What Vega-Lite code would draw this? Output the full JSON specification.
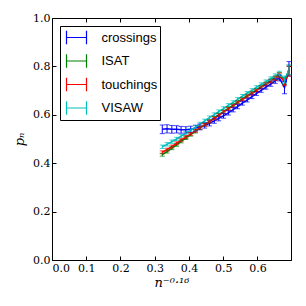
{
  "$schema": "https://vega.github.io/schema/vega-lite/v6.json",
  "width": 239,
  "height": 242,
  "autosize": {"type": "none"},
  "padding": {"left": 52, "top": 18, "right": 15, "bottom": 46},
  "background": "white",
  "config": {
    "view": {"stroke": "black", "strokeWidth": 1},
    "axis": {"labelFont": "DejaVu Serif", "labelFontSize": 11, "labelColor": "black", "titleFont": "DejaVu Serif", "titleFontWeight": "normal", "titleColor": "black", "titleFontSize": 13, "grid": false, "domain": false, "tickColor": "black", "tickSize": -4, "tickWidth": 1}
  },
  "resolve": {"axis": {"x": "independent", "y": "independent"}},
  "data": {"values": [
    {"series":"crossings","x":0.322,"p":0.540,"err":0.018},
    {"series":"crossings","x":0.336,"p":0.542,"err":0.017},
    {"series":"crossings","x":0.350,"p":0.540,"err":0.016},
    {"series":"crossings","x":0.364,"p":0.540,"err":0.015},
    {"series":"crossings","x":0.377,"p":0.538,"err":0.014},
    {"series":"crossings","x":0.391,"p":0.538,"err":0.013},
    {"series":"crossings","x":0.405,"p":0.540,"err":0.013},
    {"series":"crossings","x":0.419,"p":0.545,"err":0.012},
    {"series":"crossings","x":0.432,"p":0.550,"err":0.012},
    {"series":"crossings","x":0.446,"p":0.556,"err":0.011},
    {"series":"crossings","x":0.460,"p":0.565,"err":0.011},
    {"series":"crossings","x":0.474,"p":0.575,"err":0.010},
    {"series":"crossings","x":0.487,"p":0.585,"err":0.010},
    {"series":"crossings","x":0.501,"p":0.596,"err":0.010},
    {"series":"crossings","x":0.515,"p":0.608,"err":0.009},
    {"series":"crossings","x":0.529,"p":0.621,"err":0.009},
    {"series":"crossings","x":0.542,"p":0.634,"err":0.009},
    {"series":"crossings","x":0.556,"p":0.648,"err":0.008},
    {"series":"crossings","x":0.570,"p":0.661,"err":0.008},
    {"series":"crossings","x":0.584,"p":0.675,"err":0.008},
    {"series":"crossings","x":0.597,"p":0.688,"err":0.008},
    {"series":"crossings","x":0.611,"p":0.701,"err":0.008},
    {"series":"crossings","x":0.625,"p":0.714,"err":0.008},
    {"series":"crossings","x":0.639,"p":0.727,"err":0.009},
    {"series":"crossings","x":0.652,"p":0.740,"err":0.010},
    {"series":"crossings","x":0.664,"p":0.752,"err":0.012},
    {"series":"crossings","x":0.679,"p":0.712,"err":0.025},
    {"series":"crossings","x":0.692,"p":0.790,"err":0.030},
    {"series":"ISAT","x":0.322,"p":0.435,"err":0.006},
    {"series":"ISAT","x":0.336,"p":0.448,"err":0.006},
    {"series":"ISAT","x":0.350,"p":0.462,"err":0.006},
    {"series":"ISAT","x":0.364,"p":0.476,"err":0.006},
    {"series":"ISAT","x":0.377,"p":0.490,"err":0.006},
    {"series":"ISAT","x":0.391,"p":0.504,"err":0.006},
    {"series":"ISAT","x":0.405,"p":0.518,"err":0.006},
    {"series":"ISAT","x":0.419,"p":0.531,"err":0.006},
    {"series":"ISAT","x":0.432,"p":0.545,"err":0.006},
    {"series":"ISAT","x":0.446,"p":0.559,"err":0.006},
    {"series":"ISAT","x":0.460,"p":0.573,"err":0.006},
    {"series":"ISAT","x":0.474,"p":0.587,"err":0.006},
    {"series":"ISAT","x":0.487,"p":0.600,"err":0.006},
    {"series":"ISAT","x":0.501,"p":0.613,"err":0.006},
    {"series":"ISAT","x":0.515,"p":0.627,"err":0.006},
    {"series":"ISAT","x":0.529,"p":0.640,"err":0.006},
    {"series":"ISAT","x":0.542,"p":0.653,"err":0.006},
    {"series":"ISAT","x":0.556,"p":0.666,"err":0.006},
    {"series":"ISAT","x":0.570,"p":0.679,"err":0.006},
    {"series":"ISAT","x":0.584,"p":0.691,"err":0.006},
    {"series":"ISAT","x":0.597,"p":0.703,"err":0.006},
    {"series":"ISAT","x":0.611,"p":0.716,"err":0.006},
    {"series":"ISAT","x":0.625,"p":0.729,"err":0.006},
    {"series":"ISAT","x":0.639,"p":0.741,"err":0.007},
    {"series":"ISAT","x":0.652,"p":0.753,"err":0.008},
    {"series":"ISAT","x":0.664,"p":0.765,"err":0.010},
    {"series":"ISAT","x":0.679,"p":0.740,"err":0.015},
    {"series":"ISAT","x":0.692,"p":0.785,"err":0.020},
    {"series":"touchings","x":0.322,"p":0.445,"err":0.006},
    {"series":"touchings","x":0.336,"p":0.456,"err":0.006},
    {"series":"touchings","x":0.350,"p":0.469,"err":0.006},
    {"series":"touchings","x":0.364,"p":0.482,"err":0.006},
    {"series":"touchings","x":0.377,"p":0.495,"err":0.006},
    {"series":"touchings","x":0.391,"p":0.508,"err":0.006},
    {"series":"touchings","x":0.405,"p":0.521,"err":0.006},
    {"series":"touchings","x":0.419,"p":0.534,"err":0.006},
    {"series":"touchings","x":0.432,"p":0.547,"err":0.006},
    {"series":"touchings","x":0.446,"p":0.559,"err":0.006},
    {"series":"touchings","x":0.460,"p":0.572,"err":0.006},
    {"series":"touchings","x":0.474,"p":0.585,"err":0.006},
    {"series":"touchings","x":0.487,"p":0.598,"err":0.006},
    {"series":"touchings","x":0.501,"p":0.611,"err":0.006},
    {"series":"touchings","x":0.515,"p":0.624,"err":0.006},
    {"series":"touchings","x":0.529,"p":0.637,"err":0.006},
    {"series":"touchings","x":0.542,"p":0.650,"err":0.006},
    {"series":"touchings","x":0.556,"p":0.663,"err":0.006},
    {"series":"touchings","x":0.570,"p":0.676,"err":0.006},
    {"series":"touchings","x":0.584,"p":0.688,"err":0.006},
    {"series":"touchings","x":0.597,"p":0.700,"err":0.006},
    {"series":"touchings","x":0.611,"p":0.713,"err":0.006},
    {"series":"touchings","x":0.625,"p":0.726,"err":0.006},
    {"series":"touchings","x":0.639,"p":0.738,"err":0.007},
    {"series":"touchings","x":0.652,"p":0.750,"err":0.008},
    {"series":"touchings","x":0.664,"p":0.762,"err":0.010},
    {"series":"touchings","x":0.679,"p":0.735,"err":0.015},
    {"series":"touchings","x":0.692,"p":0.780,"err":0.020},
    {"series":"VISAW","x":0.322,"p":0.468,"err":0.007},
    {"series":"VISAW","x":0.336,"p":0.478,"err":0.007},
    {"series":"VISAW","x":0.350,"p":0.489,"err":0.007},
    {"series":"VISAW","x":0.364,"p":0.500,"err":0.007},
    {"series":"VISAW","x":0.377,"p":0.512,"err":0.007},
    {"series":"VISAW","x":0.391,"p":0.524,"err":0.007},
    {"series":"VISAW","x":0.405,"p":0.536,"err":0.007},
    {"series":"VISAW","x":0.419,"p":0.549,"err":0.007},
    {"series":"VISAW","x":0.432,"p":0.562,"err":0.007},
    {"series":"VISAW","x":0.446,"p":0.575,"err":0.007},
    {"series":"VISAW","x":0.460,"p":0.588,"err":0.007},
    {"series":"VISAW","x":0.474,"p":0.601,"err":0.007},
    {"series":"VISAW","x":0.487,"p":0.613,"err":0.007},
    {"series":"VISAW","x":0.501,"p":0.626,"err":0.007},
    {"series":"VISAW","x":0.515,"p":0.639,"err":0.007},
    {"series":"VISAW","x":0.529,"p":0.651,"err":0.007},
    {"series":"VISAW","x":0.542,"p":0.664,"err":0.007},
    {"series":"VISAW","x":0.556,"p":0.677,"err":0.007},
    {"series":"VISAW","x":0.570,"p":0.689,"err":0.007},
    {"series":"VISAW","x":0.584,"p":0.701,"err":0.007},
    {"series":"VISAW","x":0.597,"p":0.713,"err":0.007},
    {"series":"VISAW","x":0.611,"p":0.725,"err":0.007},
    {"series":"VISAW","x":0.625,"p":0.737,"err":0.007},
    {"series":"VISAW","x":0.639,"p":0.749,"err":0.008},
    {"series":"VISAW","x":0.652,"p":0.760,"err":0.009},
    {"series":"VISAW","x":0.664,"p":0.770,"err":0.010},
    {"series":"VISAW","x":0.679,"p":0.745,"err":0.015},
    {"series":"VISAW","x":0.692,"p":0.785,"err":0.020}
  ]},
  "encoding": {
    "color": {"field": "series", "type": "nominal",
      "scale": {"domain": ["crossings", "ISAT", "touchings", "VISAW"], "range": ["#0000ff", "#008000", "#ff0000", "#00bfbf"]},
      "legend": {"title": null, "orient": "top-left", "offset": 8, "padding": 2.5, "strokeColor": "black", "fillColor": "white",
        "labelFont": "Liberation Sans", "labelFontSize": 13, "labelColor": "black", "rowPadding": 3.5, "symbolOffset": 5, "labelOffset": 16,
        "symbolType": "M-1.25,-0.85L-1.25,0.85M1.25,-0.85L1.25,0.85M-1.25,0L1.25,0", "symbolSize": 256, "symbolStrokeWidth": 1.2, "symbolFillColor": "transparent", "symbolOpacity": 1}}
  },
  "layer": [
    {"mark": {"type": "line", "strokeWidth": 1.5},
     "encoding": {
      "x": {"field": "x", "type": "quantitative", "scale": {"domain": [0, 0.698], "nice": false, "zero": false},
        "axis": {"orient": "bottom", "values": [0, 0.1, 0.2, 0.3, 0.4, 0.5, 0.6], "format": ".1f", "title": "n⁻⁰·¹⁶", "titleFontStyle": "italic", "labelPadding": 6, "titlePadding": 3}},
      "y": {"field": "p", "type": "quantitative", "scale": {"domain": [0, 1], "nice": false},
        "axis": {"orient": "left", "values": [0, 0.2, 0.4, 0.6, 0.8, 1.0], "format": ".1f", "title": "pₙ", "titleFontStyle": "italic", "labelPadding": 6, "titlePadding": 6}}}},
    {"mark": {"type": "errorbar", "ticks": {"size": 5, "thickness": 1}, "thickness": 1},
     "encoding": {
      "x": {"field": "x", "type": "quantitative", "axis": null},
      "y": {"field": "p", "type": "quantitative", "axis": null},
      "yError": {"field": "err"}}},
    {"mark": {"type": "rule", "opacity": 0},
     "encoding": {
      "x": {"field": "x", "type": "quantitative", "axis": {"orient": "top", "labels": false, "title": null, "values": [0, 0.1, 0.2, 0.3, 0.4, 0.5, 0.6]}},
      "y": {"field": "p", "type": "quantitative", "axis": {"orient": "right", "labels": false, "title": null, "values": [0, 0.2, 0.4, 0.6, 0.8, 1.0]}}}}
  ]
}
